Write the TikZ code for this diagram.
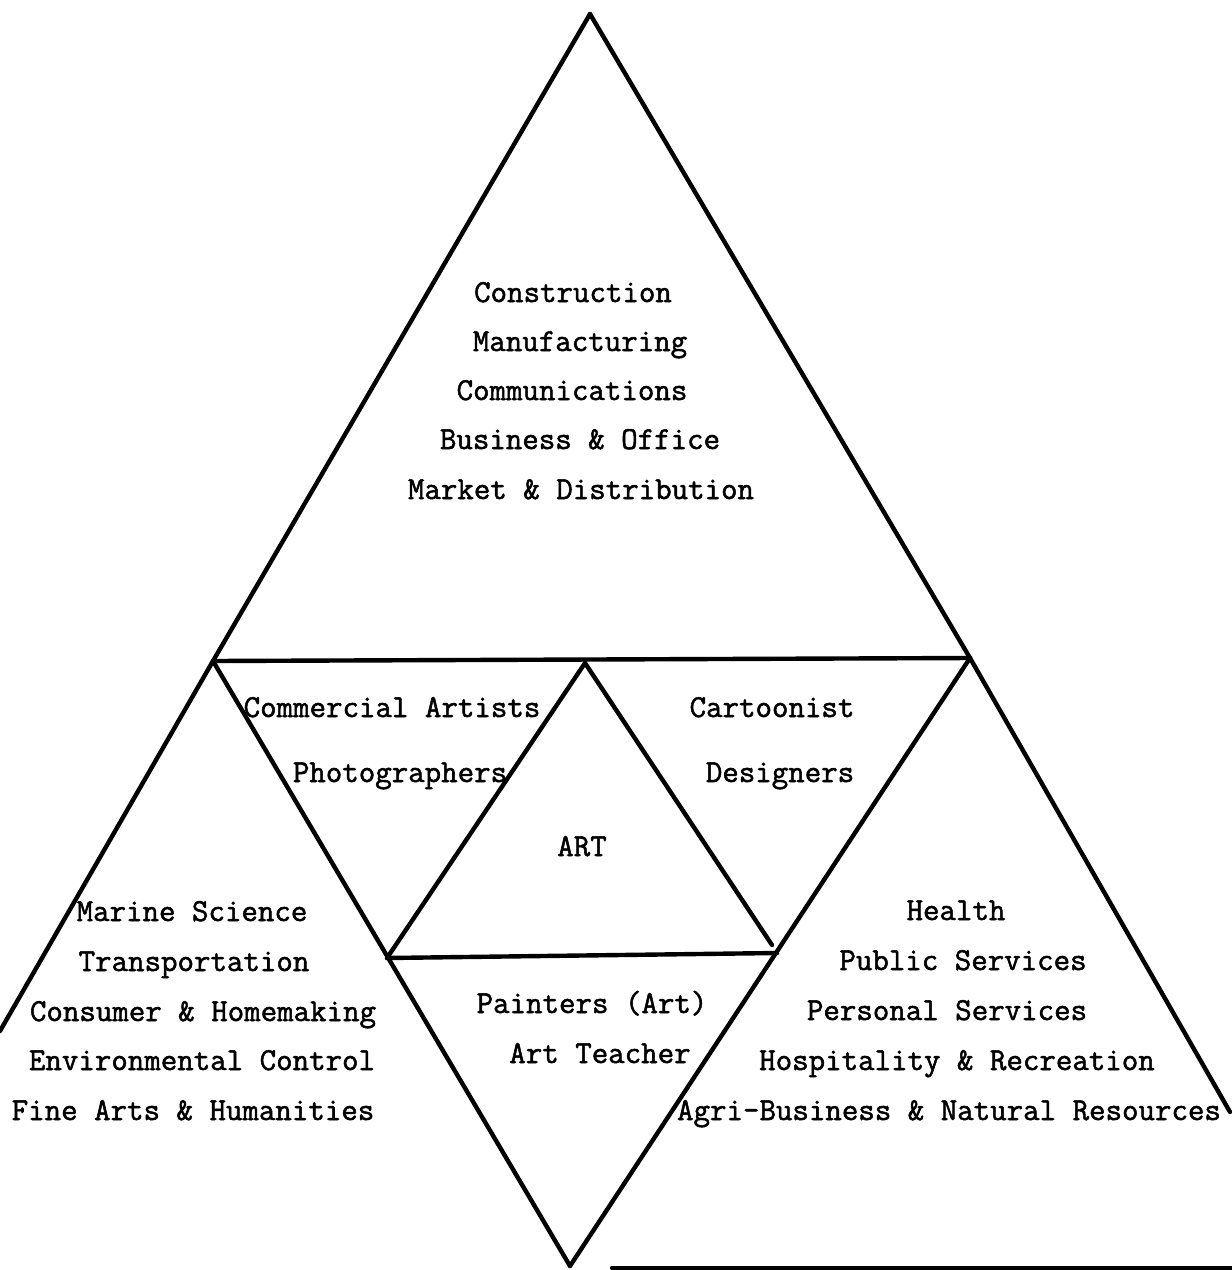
\documentclass[tikz,border=0pt]{standalone}
\usepackage{fontspec}
\setmonofont[FakeBold=1.6]{Latin Modern Mono}
\begin{document}
\begin{tikzpicture}[x=0.5pt,y=-0.5pt,
  edge/.style={line width=2.2pt,line cap=round,line join=round},
  lbl/.style={font=\ttfamily\fontsize{16pt}{18pt}\selectfont,anchor=base,inner sep=0pt}]
\useasboundingbox (0,0) rectangle (1232,1270);
% corner points of the triangles
\coordinate (A)  at (590,14);
\coordinate (TL) at (213,661);
\coordinate (TR) at (970,658);
\coordinate (M)  at (585,663);
\coordinate (P)  at (387,958);
\coordinate (Q)  at (777,953);
\coordinate (Qi) at (772,945);
\coordinate (B)  at (570,1266);
\coordinate (LO) at (0,1031);
\coordinate (RO) at (1230,1112);
\coordinate (BL) at (612,1268);
\coordinate (BR) at (1232,1268);
% outer frame
\draw[edge] (A) -- (TL);
\draw[edge] (A) -- (TR);
\draw[edge] (TL) -- (TR);
\draw[edge] (TL) -- (LO);
\draw[edge] (TL) -- (B);
\draw[edge] (TR) -- (B);
\draw[edge] (TR) -- (RO);
\draw[edge] (BL) -- (BR);
% inner triangle
\draw[edge] (M) -- (P);
\draw[edge] (M) -- (Qi);
\draw[edge] (P) -- (Q);
% top block
\node[lbl] (t1) at (573,302) {Construction};
\node[lbl] (t2) at (580,351) {Manufacturing};
\node[lbl] (t3) at (572,400) {Communications};
\node[lbl] (t4) at (580,449) {Business \& Office};
\node[lbl] (t5) at (581,499) {Market \& Distribution};
% middle triangles
\node[lbl] (c1) at (392,717) {Commercial Artists};
\node[lbl] (c2) at (400,782) {Photographers};
\node[lbl] (d1) at (772,717) {Cartoonist};
\node[lbl] (d2) at (780,782) {Designers};
\node[lbl] (art) at (582,856) {ART};
% lower left block
\node[lbl] (l1) at (192,921) {Marine Science};
\node[lbl] (l2) at (194,971) {Transportation};
\node[lbl] (l3) at (203,1021) {Consumer \& Homemaking};
\node[lbl] (l4) at (202,1070) {Environmental Control};
\node[lbl] (l5) at (193,1120) {Fine Arts \& Humanities};
% lower right block
\node[lbl] (r1) at (956,920) {Health};
\node[lbl] (r2) at (963,970) {Public Services};
\node[lbl] (r3) at (947,1020) {Personal Services};
\node[lbl] (r4) at (957,1070) {Hospitality \& Recreation};
\node[lbl] (r5) at (949,1120) {Agri-Business \& Natural Resources};
% bottom triangle
\node[lbl] (b1) at (592,1013) {Painters (Art)};
\node[lbl] (b2) at (600,1063) {Art Teacher};
\end{tikzpicture}
\end{document}
